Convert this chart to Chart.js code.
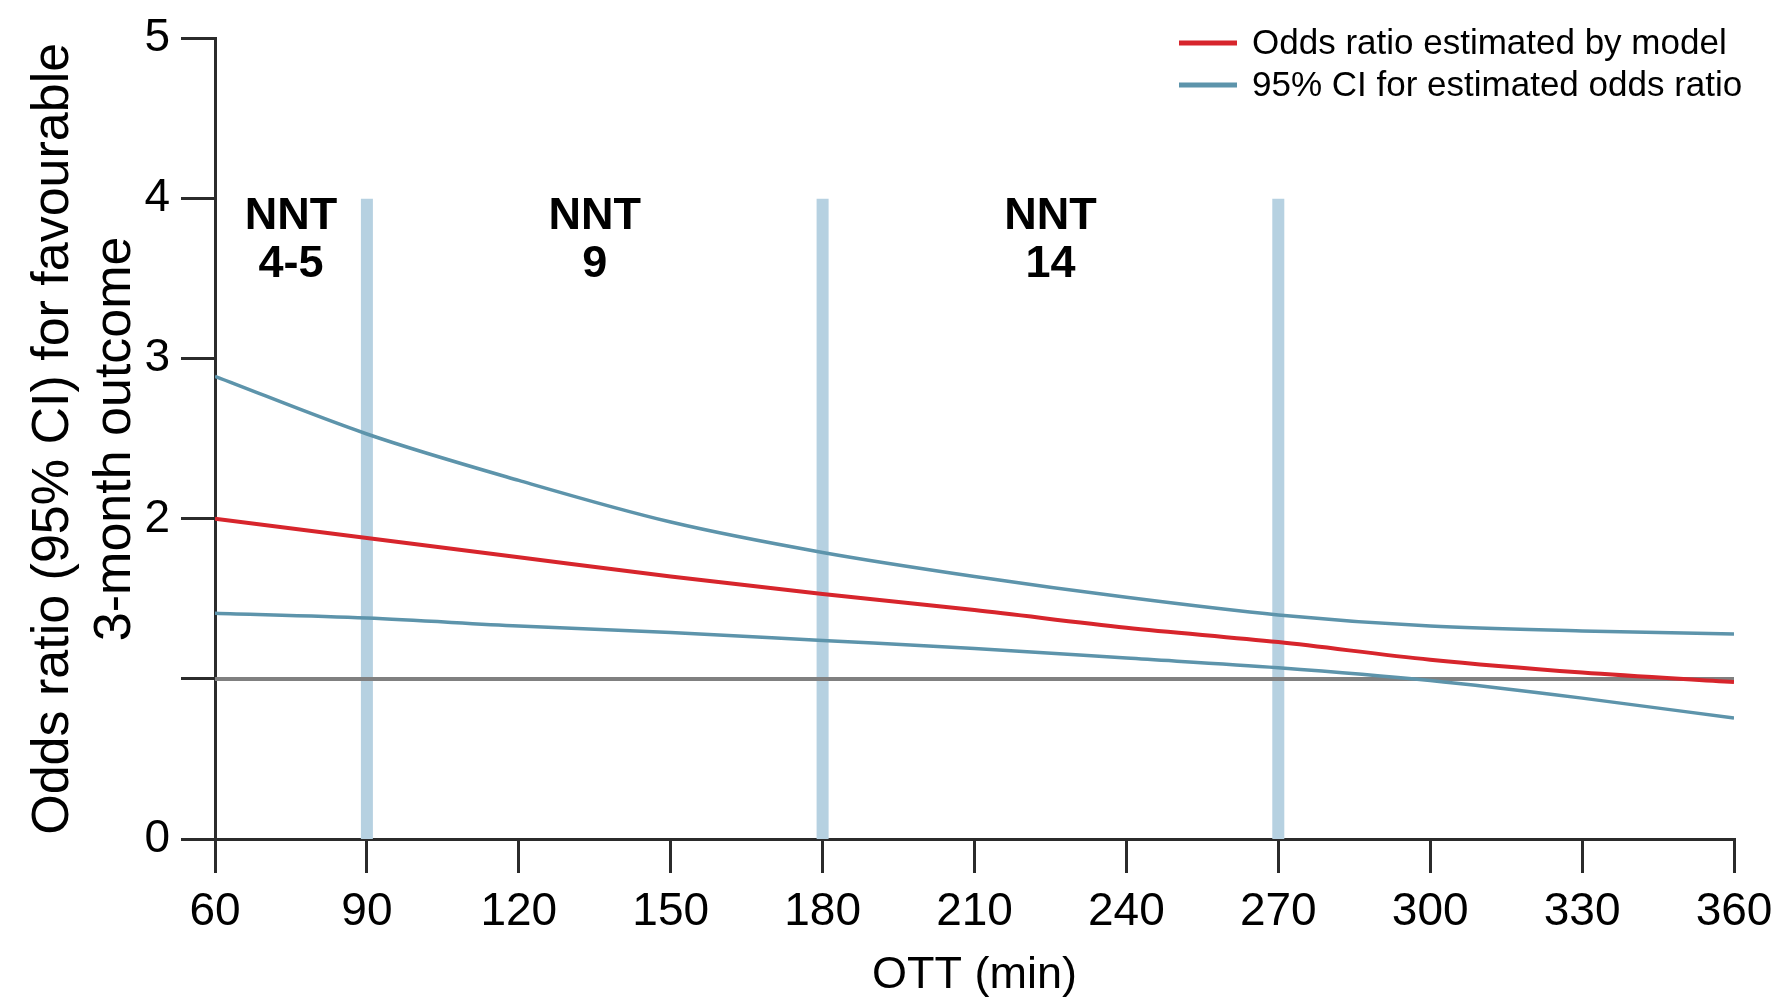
<!DOCTYPE html>
<html>
<head>
<meta charset="utf-8">
<title>Odds ratio by OTT</title>
<script src="https://cdn.jsdelivr.net/npm/chart.js@4.4.1/dist/chart.umd.min.js"></script>
<style>
	html, body { margin: 0; padding: 0; background: #fff; }
	#wrap { position: relative; width: 1777px; height: 1004px; }
</style>
</head>
<body>
<div id="wrap"><canvas id="chart"></canvas></div>
<script>
// OTT in minutes (x) and values
const ottMinutes = [60, 90, 120, 150, 180, 210, 240, 270, 300, 330, 360];
const oddsRatio = [2.00, 1.88, 1.76, 1.64, 1.53, 1.43, 1.32, 1.23, 1.12, 1.04, 0.98];
const ciUpper = [2.89, 2.53, 2.24, 1.98, 1.79, 1.64, 1.51, 1.40, 1.33, 1.30, 1.28];
const ciLower = [1.41, 1.38, 1.33, 1.29, 1.24, 1.19, 1.13, 1.07, 0.99, 0.88, 0.755];

const referenceOdds = 1;
const xTicks = [60, 90, 120, 150, 180, 210, 240, 270, 300, 330, 360];
const yTicks = [0, 1, 2, 3, 4, 5];

// NNT bands
const bandMinutes = [90, 180, 270];
const bandTop = 4;
const nntCentres = [75, 135, 225];
const nntValues = ['4-5', '9', '14'];

const legendLabels = ['Odds ratio estimated by model', '95% CI for estimated odds ratio'];

const RED = '#d7252c';
const BLUE = '#5d94ab';
const BAND = '#b6d1e1';
const AXIS = '#2b2b2b';
const FONT = "'Liberation Sans', Arial, sans-serif";

const toPoints = (ys) => ottMinutes.map((x, i) => ({ x, y: ys[i] }));

const datasets = [
	{
		label: legendLabels[0],
		data: toPoints(oddsRatio),
		borderColor: RED,
		borderWidth: 4,
		cubicInterpolationMode: 'monotone',
		pointRadius: 0
	},
	{
		label: legendLabels[1],
		data: toPoints(ciUpper),
		borderColor: BLUE,
		borderWidth: 3.5,
		cubicInterpolationMode: 'monotone',
		pointRadius: 0
	},
	{
		label: 'ci-lower',
		data: toPoints(ciLower),
		borderColor: BLUE,
		borderWidth: 3.5,
		cubicInterpolationMode: 'monotone',
		pointRadius: 0
	},
	{
		label: 'reference',
		data: [{ x: ottMinutes[0], y: referenceOdds }, { x: ottMinutes[ottMinutes.length - 1], y: referenceOdds }],
		borderColor: '#808080',
		borderWidth: 4,
		pointRadius: 0
	}
];

bandMinutes.forEach((m) => {
	datasets.push({
		label: 'band',
		data: [{ x: m, y: 0 }, { x: m, y: bandTop }],
		borderColor: BAND,
		borderWidth: 12,
		borderCapStyle: 'butt',
		pointRadius: 0
	});
});

// NNT labels and the legend, placed through the chart scales
const overlayPlugin = {
	id: 'overlay',
	afterDatasetsDraw(chart) {
		const { ctx, scales: { x, y } } = chart;
		ctx.save();
		ctx.fillStyle = '#000';
		ctx.textAlign = 'center';
		ctx.textBaseline = 'middle';
		ctx.font = `bold 45px ${FONT}`;
		nntCentres.forEach((m, i) => {
			const px = x.getPixelForValue(m);
			ctx.fillText('NNT', px, y.getPixelForValue(3.89));
			ctx.fillText(nntValues[i], px, y.getPixelForValue(3.59));
		});

		// legend, top right
		const colours = [RED, BLUE];
		const lx = 1179;
		ctx.font = `35px ${FONT}`;
		ctx.textAlign = 'left';
		legendLabels.forEach((label, i) => {
			const ly = 43 + i * 42;
			ctx.fillStyle = colours[i];
			ctx.fillRect(lx, ly - 2.5, 58, 5);
			ctx.fillStyle = '#000';
			ctx.fillText(label, lx + 73, ly + 1);
		});
		ctx.restore();
	}
};

new Chart(document.getElementById('chart').getContext('2d'), {
	type: 'line',
	data: { datasets },
	options: {
		responsive: true,
		maintainAspectRatio: false,
		animation: false,
		layout: { padding: { left: 0, top: 34, right: 43, bottom: 0 } },
		plugins: {
			legend: { display: false },
			tooltip: { enabled: false }
		},
		scales: {
			x: {
				type: 'linear',
				min: xTicks[0],
				max: xTicks[xTicks.length - 1],
				afterBuildTicks: (scale) => { scale.ticks = xTicks.map((v) => ({ value: v })); },
				afterFit: (scale) => {
					scale.height = 165;
					scale.paddingRight = 0;
				},
				ticks: {
					color: '#000',
					padding: 12,
					font: { family: FONT, size: 46 }
				},
				grid: {
					drawOnChartArea: false,
					drawTicks: true,
					tickLength: 34,
					color: AXIS,
					lineWidth: 3
				},
				border: { display: true, color: AXIS, width: 3 },
				title: {
					display: true,
					text: 'OTT (min)',
					color: '#000',
					font: { family: FONT, size: 45, lineHeight: 1.2 },
					padding: { top: 0, bottom: 1 }
				}
			},
			y: {
				type: 'linear',
				min: yTicks[0],
				max: yTicks[yTicks.length - 1],
				afterBuildTicks: (scale) => { scale.ticks = yTicks.map((v) => ({ value: v })); },
				afterFit: (scale) => { scale.width = 215; },
				ticks: {
					color: '#000',
					padding: 11,
					font: { family: FONT, size: 46 },
					callback: (v) => (v === referenceOdds ? '' : v)
				},
				grid: {
					drawOnChartArea: false,
					drawTicks: true,
					tickLength: 34,
					color: AXIS,
					lineWidth: 3
				},
				border: { display: true, color: AXIS, width: 3 },
				title: {
					display: true,
					text: ['Odds ratio (95% CI) for favourable', '3-month outcome'],
					color: '#000',
					font: { family: FONT, size: 52, lineHeight: 1.2 },
					padding: { top: 22, bottom: 0 }
				}
			}
		}
	},
	plugins: [overlayPlugin]
});
</script>
</body>
</html>
